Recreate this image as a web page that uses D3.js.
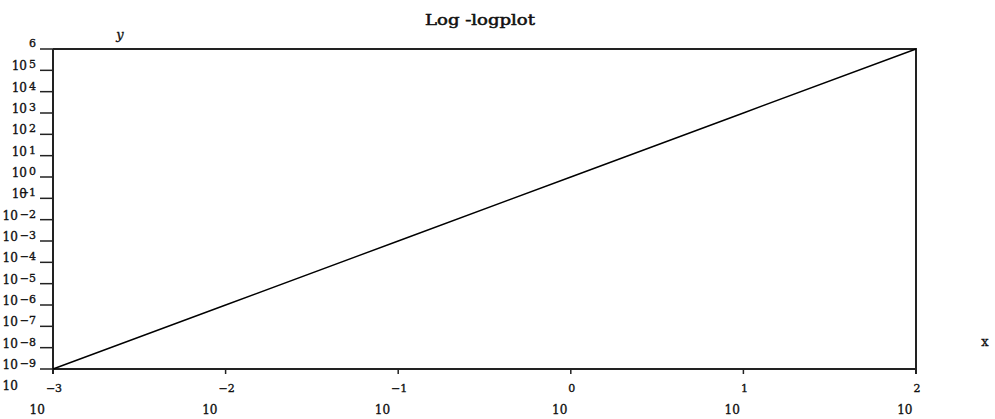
<!DOCTYPE html>
<html>
<head>
<meta charset="utf-8">
<script src="https://cdn.jsdelivr.net/npm/d3@7"></script>
<style>
  html, body { margin: 0; padding: 0; background: #fff; }
  svg { display: block; }
  text { font-family: "DejaVu Serif", "Liberation Serif", serif; fill: #111; stroke: #111; stroke-width: 0.35px; }
</style>
</head>
<body>
<script>
// ---- data ----
const xValues = [0.001, 0.01, 0.1, 1, 10, 100];
const yValues = [1e-9, 1e-6, 1e-3, 1, 1e3, 1e6];
const xTickExponents = [-3, -2, -1, 0, 1, 2];
const yTickExponents = [6, 5, 4, 3, 2, 1, 0, -1, -2, -3, -4, -5, -6, -7, -8, -9];
const titleText = "Log -logplot";
const xLabel = "x";
const yLabel = "y";

// ---- layout ----
const W = 995, H = 419;
const mLeft = 53, mRight = 916, mTop = 49, mBottom = 369;

const svg = d3.select("body").append("svg").attr("width", W).attr("height", H);

const x = d3.scaleLog().domain([1e-3, 1e2]).range([mLeft, mRight]);
const y = d3.scaleLog().domain([1e-9, 1e6]).range([mBottom, mTop]);

const fmtExp = e => (e < 0 ? "\u2212" + Math.abs(e) : String(e));

// frame
const ink = "#222";
svg.append("line").attr("x1", mLeft).attr("x2", mLeft).attr("y1", mTop).attr("y2", mBottom + 5)
  .attr("stroke", ink).attr("stroke-width", 2);
svg.append("line").attr("x1", mLeft - 1).attr("x2", mRight + 1).attr("y1", mBottom).attr("y2", mBottom)
  .attr("stroke", ink).attr("stroke-width", 2);
svg.append("line").attr("x1", mLeft).attr("x2", mRight + 1).attr("y1", mTop).attr("y2", mTop)
  .attr("stroke", ink).attr("stroke-width", 2);
svg.append("line").attr("x1", mRight).attr("x2", mRight).attr("y1", mTop).attr("y2", mBottom + 5)
  .attr("stroke", ink).attr("stroke-width", 2);

// y ticks
const gy = svg.append("g");
gy.selectAll("line.yt").data(yTickExponents).join("line")
  .attr("x1", mLeft - 13).attr("x2", mLeft)
  .attr("y1", e => y(Math.pow(10, e))).attr("y2", e => y(Math.pow(10, e)))
  .attr("stroke", ink).attr("stroke-width", 1.5);

// y tick labels: exponent at tick, base "10" below-left (as drawn in the reference)
yTickExponents.forEach(e => {
  const ty = y(Math.pow(10, e));
  const ex = gy.append("text").attr("x", 36).attr("y", ty - 6).attr("dy", "0.35em")
    .attr("text-anchor", "end").style("font-size", "11px").text(fmtExp(e));
  const exLeft = 36 - ex.node().getComputedTextLength();
  gy.append("text").attr("x", exLeft - 2).attr("y", ty + 17).attr("dy", "0.35em")
    .attr("text-anchor", "end").style("font-size", "12px").text("10");
});

// x ticks
const gx = svg.append("g");
gx.selectAll("line.xt").data(xTickExponents).join("line")
  .attr("x1", e => x(Math.pow(10, e))).attr("x2", e => x(Math.pow(10, e)))
  .attr("y1", mBottom).attr("y2", mBottom + 5)
  .attr("stroke", ink).attr("stroke-width", 1.5);

xTickExponents.forEach(e => {
  const tx = x(Math.pow(10, e));
  const ex = gx.append("text").attr("x", tx + 1).attr("y", mBottom + 19).attr("dy", "0.35em")
    .attr("text-anchor", "middle").style("font-size", "11px").text(fmtExp(e));
  const w = ex.node().getComputedTextLength();
  gx.append("text").attr("x", tx + 1 - w / 2 - 1).attr("y", mBottom + 41).attr("dy", "0.35em")
    .attr("text-anchor", "end").style("font-size", "12px").text("10");
});

// the curve
const line = d3.line().x((d, i) => x(xValues[i])).y((d, i) => y(yValues[i]));
svg.append("path").datum(xValues).attr("d", line)
  .attr("fill", "none").attr("stroke", "#000").attr("stroke-width", 1.4);

// title and axis labels
svg.append("text").attr("x", 480).attr("y", 20).attr("dy", "0.35em")
  .attr("text-anchor", "middle").style("font-size", "14px").style("stroke-width", "0.5px")
  .attr("textLength", 110).attr("lengthAdjust", "spacingAndGlyphs").text(titleText);
svg.append("text").attr("x", 120).attr("y", 34).attr("dy", "0.35em")
  .attr("text-anchor", "middle").style("font-size", "13px").style("font-style", "italic").text(yLabel);
svg.append("text").attr("x", 985).attr("y", 341).attr("dy", "0.35em")
  .attr("text-anchor", "middle").style("font-size", "13px").text(xLabel);
</script>
</body>
</html>
